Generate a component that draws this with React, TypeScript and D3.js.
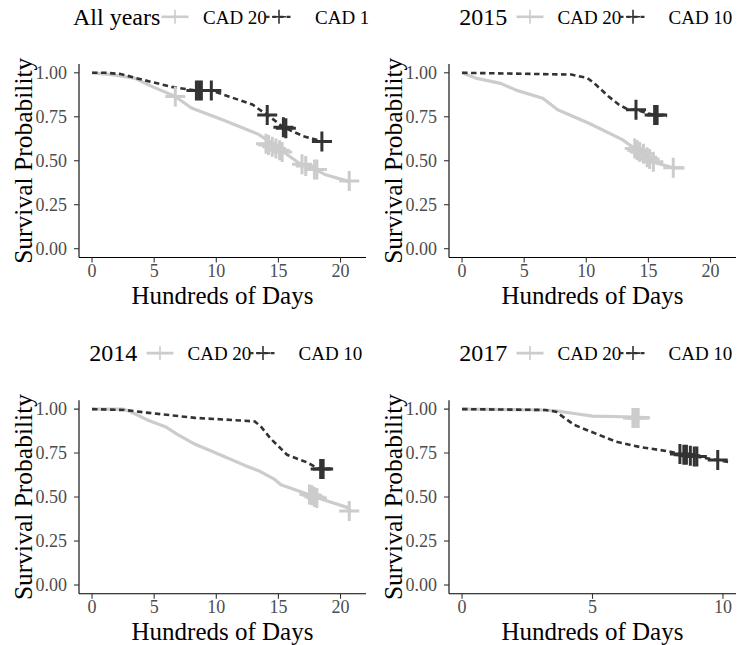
import React from "react";
import * as d3 from "d3";

// ---------- data (time in hundreds of days, survival probability) ----------
const panelTitles = ["All years", "2015", "2014", "2017"];
const seriesLabels = ["CAD 20", "CAD 10"];
const yTicks = [0, 0.25, 0.5, 0.75, 1];
const yTickLabels = ["0.00", "0.25", "0.50", "0.75", "1.00"];
const xTicksLong = [0, 5, 10, 15, 20];
const xTicksShort = [0, 5, 10];
const xMaxLong = 21;
const xMaxShort = 10;

// All years
const allCad20T = [0, 1.6, 3.4, 4.9, 6.7, 8.0, 10.6, 13.4, 14.7, 15.4, 16.8, 18.0, 18.8, 20.3, 20.8];
const allCad20S = [1, 0.99, 0.97, 0.92, 0.865, 0.8, 0.73, 0.65, 0.59, 0.55, 0.48, 0.45, 0.42, 0.39, 0.38];
const allCad20CensT = [6.7, 14.0, 14.2, 14.5, 14.8, 15.1, 15.3, 16.9, 17.2, 17.9, 18.1, 20.7];
const allCad20CensS = [0.865, 0.596, 0.59, 0.58, 0.57, 0.56, 0.55, 0.48, 0.47, 0.45, 0.45, 0.385];
const allCad10T = [0, 1.1, 2.3, 4.1, 6.4, 8.3, 9.6, 10.6, 12.9, 13.9, 14.5, 15.4, 17.0, 18.5, 19.3];
const allCad10S = [1, 1, 0.993, 0.96, 0.92, 0.9, 0.9, 0.875, 0.82, 0.77, 0.74, 0.69, 0.64, 0.61, 0.61];
const allCad10CensT = [8.4, 8.6, 8.8, 9.6, 14.1, 15.4, 15.6, 18.5];
const allCad10CensS = [0.9, 0.9, 0.9, 0.9, 0.76, 0.69, 0.685, 0.61];

// 2015
const y15Cad20T = [0, 1.1, 3.1, 4.4, 6.5, 7.7, 10.3, 12.9, 13.9, 15.5, 17.0, 17.9];
const y15Cad20S = [1, 0.97, 0.94, 0.9, 0.855, 0.79, 0.71, 0.62, 0.57, 0.49, 0.46, 0.46];
const y15Cad20CensT = [13.9, 14.1, 14.3, 14.6, 14.9, 15.1, 15.4, 17.0];
const y15Cad20CensS = [0.57, 0.56, 0.55, 0.54, 0.52, 0.51, 0.495, 0.46];
const y15Cad10T = [0, 8.8, 10.1, 10.8, 11.8, 12.6, 13.4, 14.0, 14.9, 15.6, 16.5];
const y15Cad10S = [1, 0.99, 0.97, 0.93, 0.865, 0.82, 0.79, 0.79, 0.77, 0.76, 0.755];
const y15Cad10CensT = [14.0, 15.5, 15.7];
const y15Cad10CensS = [0.79, 0.76, 0.76];

// 2014
const y14Cad20T = [0, 2.5, 3.1, 4.4, 5.9, 6.9, 8.3, 10.3, 12.3, 13.4, 14.7, 15.2, 17.2, 18.0, 18.8, 20.6, 20.8];
const y14Cad20S = [1, 1, 0.985, 0.94, 0.9, 0.855, 0.8, 0.74, 0.68, 0.65, 0.6, 0.57, 0.52, 0.5, 0.48, 0.44, 0.42];
const y14Cad20CensT = [17.5, 17.7, 17.9, 18.1, 20.7];
const y14Cad20CensS = [0.515, 0.51, 0.5, 0.495, 0.42];
const y14Cad10T = [0, 2.6, 4.4, 8.3, 10.8, 13.1, 13.6, 14.4, 15.2, 15.7, 17.2, 18.3, 19.3];
const y14Cad10S = [1, 0.995, 0.98, 0.95, 0.94, 0.93, 0.9, 0.83, 0.775, 0.74, 0.7, 0.66, 0.66];
const y14Cad10CensT = [18.4, 18.6];
const y14Cad10CensS = [0.66, 0.66];

// 2017
const y17Cad20T = [0, 3.1, 3.6, 4.3, 5.0, 6.6, 7.2];
const y17Cad20S = [1, 0.995, 0.99, 0.975, 0.96, 0.955, 0.95];
const y17Cad20CensT = [6.55, 6.65, 6.75];
const y17Cad20CensS = [0.95, 0.95, 0.95];
const y17Cad10T = [0, 3.2, 3.6, 4.3, 4.8, 5.9, 6.8, 7.9, 8.5, 9.0, 9.8, 10.2];
const y17Cad10S = [1, 0.995, 0.985, 0.91, 0.88, 0.815, 0.785, 0.76, 0.74, 0.73, 0.71, 0.7];
const y17Cad10CensT = [8.35, 8.5, 8.6, 8.75, 8.9, 9.0, 9.8];
const y17Cad10CensS = [0.745, 0.74, 0.74, 0.735, 0.73, 0.73, 0.71];

// ---------- styling ----------
const FONT = "'Liberation Serif', 'DejaVu Serif', serif";
const GRAY = "#cccccc";
const DARK = "#333333";

const zip = (t: number[], s: number[]) => t.map((v, i) => [v, s[i]] as [number, number]);

interface PanelDef {
  title: string;
  ox: number;
  oy: number;
  clipW: number;
  xMax: number;
  xTicks: number[];
  gray: [number, number][];
  grayCens: [number, number][];
  dark: [number, number][];
  darkCens: [number, number][];
  legend: { title: number; key1: number; label1: number; key2: number; label2: number };
}

const legendWide = { title: 73, key1: 175, label1: 203, key2: 279, label2: 315 };
const legendStd = { title: 89.3, key1: 160, label1: 187.5, key2: 263, label2: 298.5 };

const panels: PanelDef[] = [
  {
    title: panelTitles[0], ox: 0, oy: 0, clipW: 368.5, xMax: xMaxLong, xTicks: xTicksLong,
    gray: zip(allCad20T, allCad20S), grayCens: zip(allCad20CensT, allCad20CensS),
    dark: zip(allCad10T, allCad10S), darkCens: zip(allCad10CensT, allCad10CensS), legend: legendWide,
  },
  {
    title: panelTitles[1], ox: 370, oy: 0, clipW: 367, xMax: xMaxLong, xTicks: xTicksLong,
    gray: zip(y15Cad20T, y15Cad20S), grayCens: zip(y15Cad20CensT, y15Cad20CensS),
    dark: zip(y15Cad10T, y15Cad10S), darkCens: zip(y15Cad10CensT, y15Cad10CensS), legend: legendStd,
  },
  {
    title: panelTitles[2], ox: 0, oy: 336.3, clipW: 368.5, xMax: xMaxLong, xTicks: xTicksLong,
    gray: zip(y14Cad20T, y14Cad20S), grayCens: zip(y14Cad20CensT, y14Cad20CensS),
    dark: zip(y14Cad10T, y14Cad10S), darkCens: zip(y14Cad10CensT, y14Cad10CensS), legend: legendStd,
  },
  {
    title: panelTitles[3], ox: 370, oy: 336.3, clipW: 367, xMax: xMaxShort, xTicks: xTicksShort,
    gray: zip(y17Cad20T, y17Cad20S), grayCens: zip(y17Cad20CensT, y17Cad20CensS),
    dark: zip(y17Cad10T, y17Cad10S), darkCens: zip(y17Cad10CensT, y17Cad10CensS), legend: legendStd,
  },
];

const PL = 79, PR = 366, PT = 64, PB = 257.5;
const CROSS = 10;

const crossPath = (x: number, y: number, h: number) =>
  `M${x - h},${y}H${x + h}M${x},${y - h}V${y + h}`;

function Panel({ p, idx }: { p: PanelDef; idx: number }) {
  const pad = p.xMax * 0.05;
  const x = d3.scaleLinear().domain([-pad, p.xMax + pad]).range([PL, PR]);
  const y = d3.scaleLinear().domain([-0.05, 1.05]).range([PB, PT]);
  const line = d3.line<[number, number]>().x((d) => x(d[0])).y((d) => y(d[1]));
  const clipId = `clip-plot-${idx}`;
  const outerId = `clip-outer-${idx}`;
  const lg = p.legend;
  const keyY = 16.8;
  return (
    <g transform={`translate(${p.ox},${p.oy})`}>
      <defs>
        <clipPath id={clipId}>
          <rect x={PL} y={PT} width={PR - PL} height={PB - PT} />
        </clipPath>
        <clipPath id={outerId}>
          <rect x={0} y={0} width={p.clipW} height={330} />
        </clipPath>
      </defs>
      <g clipPath={`url(#${outerId})`}>
        {/* legend */}
        <text x={lg.title} y={25} fontSize={24} fontFamily={FONT} fill="#000">{p.title}</text>
        <line x1={lg.key1 - 13.5} x2={lg.key1 + 13.5} y1={keyY} y2={keyY} stroke={GRAY} strokeWidth={2.6} />
        <path d={crossPath(lg.key1, keyY, 7)} stroke={GRAY} strokeWidth={1.6} fill="none" />
        <text x={lg.label1} y={23.5} fontSize={19} fontFamily={FONT} fill="#000">{seriesLabels[0]}</text>
        <line x1={lg.key2 - 13.5} x2={lg.key2 + 13.5} y1={keyY} y2={keyY} stroke={DARK} strokeWidth={2.2} strokeDasharray="4,3" />
        <path d={crossPath(lg.key2, keyY, 7)} stroke={DARK} strokeWidth={1.6} fill="none" />
        <text x={lg.label2} y={23.5} fontSize={19} fontFamily={FONT} fill="#000">{seriesLabels[1]}</text>

        {/* data */}
        <g clipPath={`url(#${clipId})`}>
          <path d={line(p.gray) || ""} fill="none" stroke={GRAY} strokeWidth={3.2} strokeLinejoin="round" />
          <path d={line(p.dark) || ""} fill="none" stroke={DARK} strokeWidth={2.6} strokeDasharray="5.5,3.5" />
          {p.grayCens.map((d, i) => (
            <path key={`g${i}`} d={crossPath(x(d[0]), y(d[1]), CROSS)} stroke={GRAY} strokeWidth={3} fill="none" />
          ))}
          {p.darkCens.map((d, i) => (
            <path key={`d${i}`} d={crossPath(x(d[0]), y(d[1]), CROSS)} stroke={DARK} strokeWidth={3} fill="none" />
          ))}
        </g>

        {/* axes */}
        <line x1={PL} x2={PL} y1={PT} y2={PB} stroke="#000" strokeWidth={1.1} />
        <line x1={PL} x2={PR} y1={PB} y2={PB} stroke="#000" strokeWidth={1.1} />
        {yTicks.map((t, i) => (
          <g key={`yt${i}`}>
            <line x1={PL - 5} x2={PL} y1={y(t)} y2={y(t)} stroke="#333" strokeWidth={1.1} />
            <text x={PL - 12} y={y(t)} dy="0.33em" textAnchor="end" fontSize={18} fontFamily={FONT} fill="#4d4d4d">
              {yTickLabels[i]}
            </text>
          </g>
        ))}
        {p.xTicks.map((t, i) => (
          <g key={`xt${i}`}>
            <line x1={x(t)} x2={x(t)} y1={PB} y2={PB + 5} stroke="#333" strokeWidth={1.1} />
            <text x={x(t)} y={276.5} textAnchor="middle" fontSize={18} fontFamily={FONT} fill="#4d4d4d">
              {String(t)}
            </text>
          </g>
        ))}
        <text x={(PL + PR) / 2} y={303.5} textAnchor="middle" fontSize={25} fontFamily={FONT} fill="#000">
          Hundreds of Days
        </text>
        <text
          transform={`translate(31.5,${(PT + PB) / 2}) rotate(-90)`}
          textAnchor="middle"
          fontSize={25.5}
          fontFamily={FONT}
          fill="#000"
        >
          Survival Probability
        </text>
      </g>
    </g>
  );
}

export default function App() {
  return (
    <svg width={737} height={645} style={{ position: "absolute", left: 0, top: 0, background: "#fff" }}>
      <rect width={737} height={645} fill="#fff" />
      {panels.map((p, i) => (
        <Panel key={i} p={p} idx={i} />
      ))}
    </svg>
  );
}
